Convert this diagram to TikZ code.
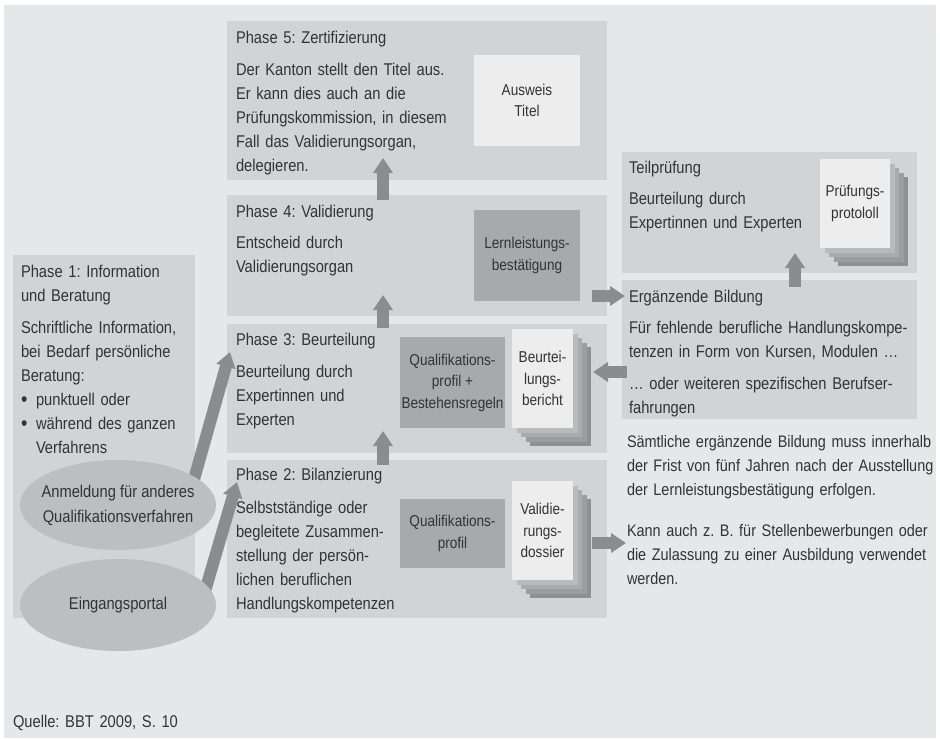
\documentclass[tikz,border=0pt]{standalone}
\usepackage{fontspec}
\setmainfont{Liberation Sans}[FakeStretch=0.865]
\usetikzlibrary{arrows.meta,shapes.geometric}
\definecolor{bgc}{HTML}{E6E7E8}
\definecolor{boxc}{HTML}{D1D3D4}
\definecolor{ellc}{HTML}{BCBEC0}
\definecolor{darkc}{HTML}{A7A9AC}
\definecolor{pagec}{HTML}{EDEDEE}
\definecolor{arrc}{HTML}{8A8C8E}
\definecolor{sha}{HTML}{B8BABC}
\definecolor{shb}{HTML}{A9ABAD}
\definecolor{shc}{HTML}{9B9D9F}
\definecolor{shd}{HTML}{8E9092}
\definecolor{txt}{HTML}{333333}
\tikzset{
  phasebox/.style={fill=boxc, draw=none, inner sep=0pt, outer sep=0pt, anchor=north west},
  innerbox/.style={draw=none, inner sep=0pt, outer sep=0pt, anchor=north west},
  para/.style={anchor=base west, inner sep=0pt, outer sep=0pt, text width=320pt, align=left,
    font=\fontsize{17}{24}\selectfont\frenchspacing, text=txt},
  sidepara/.style={para, font=\fontsize{16.7}{24}\selectfont\frenchspacing},
  boxtext/.style={anchor=center, inner sep=0pt, align=center,
    font=\fontsize{15.7}{21.5}\selectfont\frenchspacing, text=txt},
  elltext/.style={anchor=center, inner sep=0pt, align=center,
    font=\fontsize{17}{25}\selectfont\frenchspacing, text=txt},
  bultext/.style={anchor=base west, inner sep=0pt, outer sep=0pt,
    font=\fontsize{21}{24}\selectfont, text=txt},
  ellbox/.style={ellipse, fill=ellc, draw=none, inner sep=0pt},
  bigarrow/.style={draw=arrc, line width=12pt, -{Triangle[width=19pt,length=15pt]}},
}
\newcommand{\docstack}[5]{%
  % #1 name, #2 x, #3 y, #4 width, #5 height
  \node[innerbox, fill=shd, minimum width=#4, minimum height=#5] (#1-d) at (#2+18,#3+18) {};
  \node[innerbox, fill=shc, minimum width=#4, minimum height=#5] (#1-c) at (#2+13.5,#3+13.5) {};
  \node[innerbox, fill=shb, minimum width=#4, minimum height=#5] (#1-b) at (#2+9,#3+9) {};
  \node[innerbox, fill=sha, minimum width=#4, minimum height=#5] (#1-a) at (#2+4.5,#3+4.5) {};
  \node[innerbox, fill=pagec, minimum width=#4, minimum height=#5] (#1) at (#2,#3) {};
}
\begin{document}
\begin{tikzpicture}[x=1pt,y=-1pt]
\useasboundingbox (0,0) rectangle (940,739);
\fill[white] (0,0) rectangle (940,739);
\fill[bgc] (4,5) rectangle (936,738);

% phase boxes
\node[phasebox, minimum width=380, minimum height=159] (p5) at (227,21) {};
\node[phasebox, minimum width=380, minimum height=121] (p4) at (227,195) {};
\node[phasebox, minimum width=380, minimum height=129] (p3) at (227,324) {};
\node[phasebox, minimum width=380, minimum height=158] (p2) at (227,460) {};
\node[phasebox, minimum width=182, minimum height=363] (p1) at (13,255) {};
\node[phasebox, minimum width=295, minimum height=121] (teil) at (622,152) {};
\node[phasebox, minimum width=295, minimum height=139] (erg) at (622,280) {};

% inner boxes
\node[innerbox, fill=pagec, minimum width=106, minimum height=91] (ausweis) at (474,55) {};
\node[innerbox, fill=darkc, minimum width=106, minimum height=91] (lern) at (474,210) {};
\node[innerbox, fill=darkc, minimum width=105, minimum height=91] (qualp) at (400,337) {};
\node[innerbox, fill=darkc, minimum width=105, minimum height=69] (qual) at (400,499) {};
\docstack{beur}{512}{329}{61}{99}
\docstack{vali}{512}{481}{61}{99}
\docstack{pruef}{820}{159}{70}{89}

% arrows
\coordinate (a45s) at (383,200); \coordinate (a45e) at (383,158);
\coordinate (a34s) at (383,328); \coordinate (a34e) at (383,295);
\coordinate (a23s) at (383,465); \coordinate (a23e) at (383,431);
\coordinate (aans) at (191,490); \coordinate (aane) at (230,352);
\coordinate (aeis) at (203,598); \coordinate (aeie) at (237,482);
\coordinate (a4es) at (592,296); \coordinate (a4ee) at (625,296);
\coordinate (aebs) at (627,372); \coordinate (aebe) at (593,372);
\coordinate (aets) at (795,287); \coordinate (aete) at (795,253);
\coordinate (advs) at (592,543); \coordinate (adve) at (626,543);
\draw[bigarrow] (a45s) -- (a45e);
\draw[bigarrow] (a34s) -- (a34e);
\draw[bigarrow] (a23s) -- (a23e);
\draw[bigarrow] (aans) -- (aane);
\draw[bigarrow] (aeis) -- (aeie);
\draw[bigarrow] (a4es) -- (a4ee);
\draw[bigarrow] (aebs) -- (aebe);
\draw[bigarrow] (aets) -- (aete);
\draw[bigarrow] (advs) -- (adve);

% ellipses
\node[ellbox, minimum width=196, minimum height=90] (anm) at (118,505) {};
\node[ellbox, minimum width=196, minimum height=92] (ein) at (118,605) {};
\node[elltext] (anmt) at (118,505.5) {Anmeldung für anderes\\Qualifikationsverfahren};
\node[elltext] (eint) at (118,605) {Eingangsportal};

% phase texts
\node[para] (p5t) at (236,43) {Phase 5: Zertifizierung};
\node[para] (p5b) at (236,75) {Der Kanton stellt den Titel aus.\\Er kann dies auch an die\\Prüfungskommission, in diesem\\Fall das Validierungsorgan,\\delegieren.};
\node[para] (p4t) at (236,217) {Phase 4: Validierung};
\node[para] (p4b) at (236,248) {Entscheid durch\\Validierungsorgan};
\node[para] (p3t) at (236,345) {Phase 3: Beurteilung};
\node[para] (p3b) at (236,377) {Beurteilung durch\\Expertinnen und\\Experten};
\node[para] (p2t) at (236,480) {Phase 2: Bilanzierung};
\node[para] (p2b) at (236,513) {Selbstständige oder\\begleitete Zusammen-\\stellung der persön-\\lichen beruflichen\\Handlungskompetenzen};
\node[para] (p1t) at (21,277) {Phase 1: Information\\und Beratung};
\node[para] (p1b) at (21,333) {Schriftliche Information,\\bei Bedarf persönliche\\Beratung:};
\node[para] (p1l) at (36,405) {punktuell oder\\während des ganzen\\Verfahrens};
\node[bultext] (bul1) at (21,406) {\textbullet};
\node[bultext] (bul2) at (21,430) {\textbullet};
\node[para] (teilt) at (629,173) {Teilprüfung};
\node[para] (teilb) at (629,204) {Beurteilung durch\\Expertinnen und Experten};
\node[para] (ergt) at (629,302) {Ergänzende Bildung};
\node[para] (ergb) at (629,333) {Für fehlende berufliche Handlungskompe-\\tenzen in Form von Kursen, Modulen \dots};
\node[para] (ergc) at (629,389) {\dots\ oder weiteren spezifischen Berufser-\\fahrungen};
\node[sidepara] (samt) at (627,447) {Sämtliche ergänzende Bildung muss innerhalb\\der Frist von fünf Jahren nach der Ausstellung\\der Lernleistungsbestätigung erfolgen.};
\node[sidepara] (kann) at (627,536) {Kann auch z. B. für Stellenbewerbungen oder\\die Zulassung zu einer Ausbildung verwendet\\werden.};
\node[para] (quelle) at (13,727) {Quelle: BBT 2009, S. 10};

% box texts
\node[boxtext] (ausweist) at (ausweis.center) {Ausweis\\Titel};
\node[boxtext] (lernt) at (lern.center) {Lernleistungs-\\bestätigung};
\node[boxtext] (qualpt) at (qualp.center) {Qualifikations-\\profil +\\Bestehensregeln};
\node[boxtext] (qualt) at (qual.center) {Qualifikations-\\profil};
\node[boxtext] (beurt) at (beur.center) {Beurtei-\\lungs-\\bericht};
\node[boxtext] (valit) at (vali.center) {Validie-\\rungs-\\dossier};
\node[boxtext] (prueft) at (pruef.center) {Prüfungs-\\protololl};
\end{tikzpicture}
\end{document}
